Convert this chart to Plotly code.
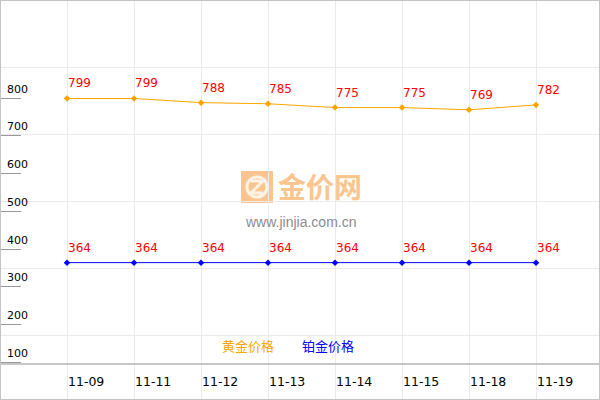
import plotly.graph_objects as go

# data
dates = ['11-09', '11-11', '11-12', '11-13', '11-14', '11-15', '11-18', '11-19']
gold = [799, 799, 788, 785, 775, 775, 769, 782]
platinum = [364, 364, 364, 364, 364, 364, 364, 364]
y_ticks = [100, 200, 300, 400, 500, 600, 700, 800]
legend_names = ['黄金价格', '铂金价格']

gold_color = '#FFA500'
plat_color = '#0000FF'
label_color = '#FF0000'
grid_color = '#EBEBEB'

fig = go.Figure()

# empty trace just to carry the independent horizontal grid
fig.add_trace(go.Scatter(x=[], y=[], yaxis='y2', showlegend=False))

for name, vals, col in [(legend_names[0], gold, gold_color),
                        (legend_names[1], platinum, plat_color)]:
    fig.add_trace(go.Scatter(x=dates, y=vals, mode='lines+markers', name=name,
                             line=dict(color=col, width=1),
                             marker=dict(color=col, size=5, symbol='diamond')))

annotations = []
# data labels
for vals in (gold, platinum):
    for d, v in zip(dates, vals):
        annotations.append(dict(x=d, y=v, text=str(v), showarrow=False,
                                xanchor='left', yanchor='middle', xshift=-1, yshift=15,
                                font=dict(color=label_color, size=12, family='DejaVu Sans')))
# date labels under the axis line
for d in dates:
    annotations.append(dict(x=d, y=1 - 381 / 400, yref='paper', text=d, showarrow=False,
                            xanchor='left', yanchor='middle', xshift=-1,
                            font=dict(color='#000000', size=12.5, family='DejaVu Sans')))
# y tick labels sit above their tick marks
for t in y_ticks:
    annotations.append(dict(x=0.008, xref='paper', y=t, text=str(t), showarrow=False,
                            xanchor='left', yanchor='middle', yshift=9,
                            font=dict(color='#000000', size=11, family='DejaVu Sans')))
# legend
annotations.append(dict(x=220 / 600, y=1 - 345 / 400, xref='paper', yref='paper',
                        text=legend_names[0], showarrow=False, xanchor='left', yanchor='middle',
                        font=dict(color=gold_color, size=13, family='Noto Sans CJK SC')))
annotations.append(dict(x=300 / 600, y=1 - 345 / 400, xref='paper', yref='paper',
                        text=legend_names[1], showarrow=False, xanchor='left', yanchor='middle',
                        font=dict(color=plat_color, size=13, family='Noto Sans CJK SC')))
# watermark
annotations.append(dict(x=276 / 600, y=1 - 186 / 400, xref='paper', yref='paper',
                        text='<b>金价网</b>', showarrow=False, xanchor='left', yanchor='middle',
                        font=dict(color='#FBC590', size=28, family='Noto Sans CJK SC')))
annotations.append(dict(x=300 / 600, y=1 - 222 / 400, xref='paper', yref='paper',
                        text='www.jinjia.com.cn', showarrow=False, xanchor='center', yanchor='middle',
                        font=dict(color='#8C8C8C', size=14, family='Liberation Sans')))

shapes = [
    # logo icon
    dict(type='rect', xref='paper', yref='paper', x0=241 / 600, x1=273 / 600,
         y0=1 - 203 / 400, y1=1 - 171 / 400, fillcolor='#FCC590', line=dict(width=0),
         layer='below'),
    dict(type='circle', xref='paper', yref='paper', x0=247 / 600, x1=267 / 600,
         y0=1 - 197 / 400, y1=1 - 177 / 400, line=dict(color='#FFF3E6', width=3)),
    dict(type='path', xref='paper', yref='paper',
         path='M %f %f L %f %f L %f %f L %f %f' % (251 / 600, 1 - 181 / 400, 263 / 600, 1 - 181 / 400,
                                                   251 / 600, 1 - 193 / 400, 263 / 600, 1 - 193 / 400),
         line=dict(color='#FFF3E6', width=3)),
    # x axis line
    dict(type='line', xref='paper', yref='paper', x0=0, x1=1, y0=1 - 364 / 400, y1=1 - 364 / 400,
         line=dict(color='#B4B4B4', width=1.5)),
    # outer frame
    dict(type='rect', xref='paper', yref='paper', x0=0, x1=1, y0=0, y1=1,
         line=dict(color='#C4C4C4', width=2)),
]

fig.update_layout(
    width=600, height=400,
    margin=dict(l=0, r=0, t=0, b=0),
    paper_bgcolor='white', plot_bgcolor='white',
    showlegend=False,
    annotations=annotations,
    shapes=shapes,
    xaxis=dict(type='category', range=[-1, 600 / 67 - 1], showgrid=True, gridcolor=grid_color,
               showticklabels=False, ticks='', zeroline=False, showline=False),
    yaxis=dict(range=[0, 1060], tickvals=y_ticks, showticklabels=False, ticks='inside',
               ticklen=21, tickcolor='#999999', tickwidth=1, showgrid=False, zeroline=False,
               showline=False),
    # horizontal grid is independent of the value scale
    yaxis2=dict(range=[400, 0], overlaying='y', tickvals=[67, 134, 201, 268, 335],
                showgrid=True, gridcolor=grid_color, showticklabels=False, ticks='',
                zeroline=False, side='right'),
)

fig.write_html('out.html', config={'displayModeBar': False},
               post_script="document.body.style.margin='0';document.body.style.overflow='hidden';")
